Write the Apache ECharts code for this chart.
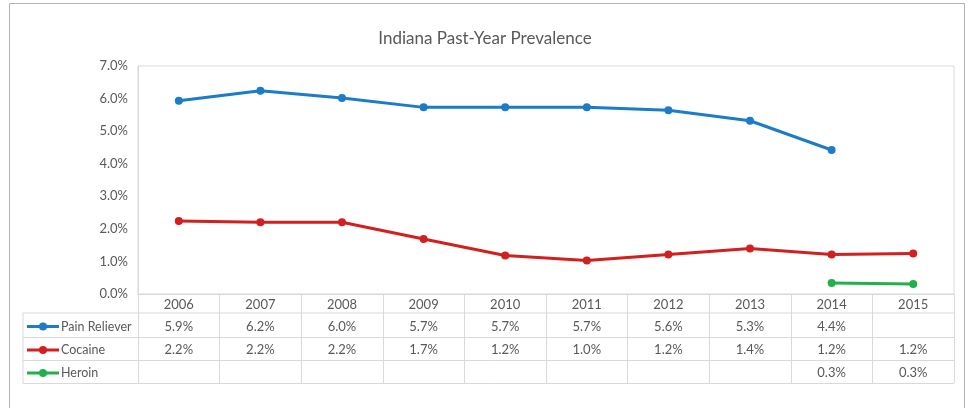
<!DOCTYPE html>
<html>
<head>
<meta charset="utf-8">
<script src="https://cdn.jsdelivr.net/npm/echarts@6/dist/echarts.min.js"></script>
<style>html,body{margin:0;padding:0;background:#fff}#c{width:970px;height:408px}</style>
</head>
<body>
<div id="c"></div>
<script>
const years = ['2006','2007','2008','2009','2010','2011','2012','2013','2014','2015'];
const painReliever = [5.93, 6.24, 6.02, 5.73, 5.73, 5.73, 5.64, 5.32, 4.42, null];
const cocaine = [2.24, 2.20, 2.20, 1.69, 1.18, 1.03, 1.21, 1.40, 1.21, 1.24];
const heroin = [null, null, null, null, null, null, null, null, 0.34, 0.31];
const seriesNames = ['Pain Reliever', 'Cocaine', 'Heroin'];
const seriesColors = ['#1c7cc8', '#d0201f', '#21b04b'];
const titleText = 'Indiana Past-Year Prevalence';

const FONT = 'Lato';
const TXT = '#595959';
const LINE = '#d9d9d9';
const allSeries = [painReliever, cocaine, heroin];

const chart = echarts.init(document.getElementById('c'), null, {renderer: 'canvas'});
chart.setOption({
  animation: false,
  backgroundColor: '#fff',
  textStyle: {fontFamily: FONT},
  title: {
    text: titleText, left: 'center', top: 25,
    textStyle: {fontFamily: FONT, fontSize: 17, fontWeight: 'normal', color: TXT}
  },
  grid: {left: 138, top: 66, right: 16, bottom: 114, show: true, borderColor: LINE, borderWidth: 1},
  xAxis: {
    type: 'category', data: years, boundaryGap: true,
    axisLine: {lineStyle: {color: LINE, width: 1}},
    axisTick: {show: true, length: 89, inside: false, lineStyle: {color: LINE, width: 1}},
    axisLabel: {color: TXT, fontSize: 13, fontFamily: FONT, margin: 4, interval: 0},
    splitLine: {show: false}
  },
  yAxis: {
    type: 'value', min: 0, max: 7, interval: 1,
    axisLine: {show: true, lineStyle: {color: LINE}},
    axisTick: {show: false},
    splitLine: {show: false},
    axisLabel: {color: TXT, fontSize: 13, fontFamily: FONT, margin: 10, formatter: v => v.toFixed(1) + '%'}
  },
  series: allSeries.map((d, i) => ({
    name: seriesNames[i], type: 'line', data: d,
    symbol: 'circle', symbolSize: 8, showSymbol: true,
    connectNulls: false,
    itemStyle: {color: seriesColors[i]},
    lineStyle: {color: seriesColors[i], width: 3}
  }))
});

// Data table below the plot
const rowLines = [313, 337.5, 360.5, 383.5];
const rowCenters = [326.5, 350, 373];
const tableLeft = 23, tableRight = 954;
const g = [];
// outer chart border
g.push({type: 'rect', shape: {x: 9.5, y: 3.5, width: 955, height: 420}, style: {fill: null, stroke: '#b4b4b4', lineWidth: 1}, z: 0, silent: true});
rowLines.forEach(y => {
  g.push({type: 'line', shape: {x1: tableLeft, y1: y, x2: tableRight, y2: y}, style: {stroke: LINE, lineWidth: 1}, z: 1});
});
g.push({type: 'line', shape: {x1: tableLeft, y1: rowLines[0], x2: tableLeft, y2: rowLines[3]}, style: {stroke: LINE, lineWidth: 1}, z: 1});
allSeries.forEach((d, s) => {
  const yc = rowCenters[s];
  // legend key
  g.push({type: 'line', shape: {x1: 27, y1: yc, x2: 59, y2: yc}, style: {stroke: seriesColors[s], lineWidth: 3}, z: 2});
  g.push({type: 'circle', shape: {cx: 43, cy: yc, r: 4}, style: {fill: seriesColors[s]}, z: 3});
  g.push({type: 'text', x: 61, y: yc, style: {text: seriesNames[s], fill: TXT, font: '12.5px "' + FONT + '"', align: 'left', verticalAlign: 'middle'}, z: 2});
  d.forEach((v, i) => {
    if (v == null) return;
    const x = chart.convertToPixel({xAxisIndex: 0}, i);
    g.push({type: 'text', x: x, y: yc, style: {text: v.toFixed(1) + '%', fill: TXT, font: '13px "' + FONT + '"', align: 'center', verticalAlign: 'middle'}, z: 2});
  });
});
chart.setOption({graphic: g});
</script>
</body>
</html>
